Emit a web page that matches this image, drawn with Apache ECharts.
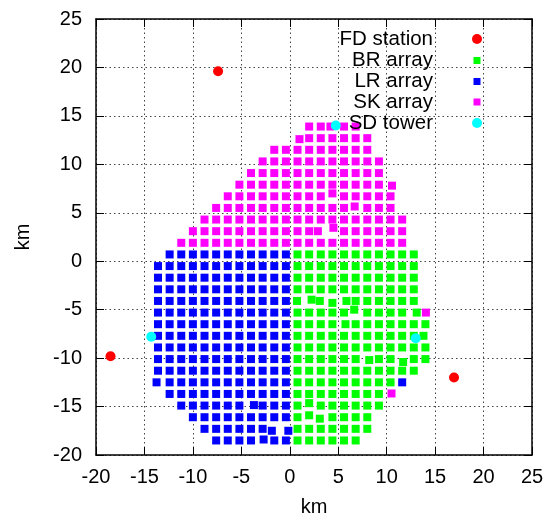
<!DOCTYPE html>
<html>
<head>
<meta charset="utf-8">
<script src="https://cdn.jsdelivr.net/npm/echarts@6/dist/echarts.min.js"></script>
<style>html,body{margin:0;padding:0;background:#fff}#c{width:555px;height:516px}</style>
</head>
<body>
<div id="c"></div>
<script>
// Axis ticks
const xTicks = [-20, -15, -10, -5, 0, 5, 10, 15, 20, 25];
const yTicks = [-20, -15, -10, -5, 0, 5, 10, 15, 20, 25];
const legendNames = ['FD station', 'BR array', 'LR array', 'SK array', 'SD tower'];

// FD stations and SD communication towers (km)
const fdStations = [[-7.4, 19.6], [-18.5, -9.8], [16.95, -12.0]];
const sdTowers = [[4.75, 14.0], [-14.3, -7.8], [13.0, -7.95]];

const skRows = [
  [13.9, [2.0, 3.2, 4.2, 5.6, 6.8]],
  [12.7, [[1.0, 12.6], 2.0, 3.2, 4.4, 5.6, 6.8, 8.0]],
  [11.5, [-1.6, -0.4, 0.8, 2.0, 3.2, 4.4, 5.6, 6.8, 8.0]],
  [10.3, [-2.8, -1.6, -0.4, 0.8, 2.0, 3.2, 4.4, 5.6, 6.8, 8.0, 9.2]],
  [9.1, [-4.0, -2.8, -1.6, -0.4, 0.8, 2.0, 3.2, 4.4, 5.6, 6.8, 8.0, 9.2]],
  [7.9, [-5.2, -4.0, -2.8, -1.6, -0.4, 0.8, 2.0, 3.2, 4.4, 5.6, 6.8, 8.0, 9.2, [10.55, 7.8]]],
  [6.7, [-6.4, -5.2, -4.0, -2.8, -1.6, -0.4, 0.8, 2.0, 3.2, [4.4, 7.0], 5.6, 6.8, 8.0, 9.2, 10.4]],
  [5.5, [-7.6, -6.4, -5.2, -4.0, -2.8, -1.6, -0.4, 0.8, 2.0, 3.2, 4.4, 5.6, [6.7, 5.65], 8.0, 9.2, 10.4]],
  [4.3, [-8.8, -7.6, -6.4, -5.2, -4.0, -2.8, -1.6, -0.4, 0.8, 2.0, 3.2, 4.4, 5.6, 6.8, 8.0, 9.2, 10.4, 11.6]],
  [3.1, [-10.0, -8.8, -7.6, -6.4, -5.2, -4.0, -2.8, -1.6, -0.4, 0.8, 2.0, [2.9, 3.1], [4.5, 3.45], 5.6, 6.8, 8.0, 9.2, 10.4, 11.6]],
  [1.9, [-11.2, -10.0, -8.8, -7.6, -6.4, -5.2, -4.0, -2.8, -1.6, -0.4, 0.8, 2.0, 3.2, 4.4, 5.6, 6.8, 8.0, 9.2, 10.4, 11.6]],
  [-5.3, [14.05]],
  [-13.65, [10.5]]
];

const lrRows = [
  [0.7, [-12.4, -11.2, -10.0, -8.8, -7.6, -6.4, -5.2, -4.0, -2.8, -1.6, -0.4]],
  [-0.5, [-13.6, -12.4, -11.2, -10.0, -8.8, -7.6, -6.4, -5.2, -4.0, -2.8, -1.6, -0.4]],
  [-1.7, [-13.6, -12.4, -11.2, -10.0, -8.8, -7.6, -6.4, -5.2, -4.0, -2.8, -1.6, -0.4]],
  [-2.9, [-13.6, -12.4, -11.2, -10.0, -8.8, -7.6, -6.4, -5.2, -4.0, -2.8, -1.6, -0.4]],
  [-4.1, [-13.6, -12.4, -11.2, -10.0, -8.8, -7.6, -6.4, -5.2, -4.0, -2.8, -1.6, -0.4]],
  [-5.3, [-13.6, -12.4, -11.2, -10.0, -8.8, -7.6, -6.4, -5.2, -4.0, -2.8, -1.6, -0.4]],
  [-6.5, [-13.6, -12.4, -11.2, -10.0, -8.8, -7.6, -6.4, -5.2, -4.0, -2.8, -1.6, -0.4]],
  [-7.7, [-13.6, -12.4, -11.2, -10.0, -8.8, -7.6, -6.4, -5.2, -4.0, -2.8, -1.6, -0.4]],
  [-8.9, [-13.6, -12.4, -11.2, -10.0, -8.8, -7.6, -6.4, -5.2, -4.0, -2.8, -1.6, -0.4]],
  [-10.1, [-13.6, -12.4, -11.2, -10.0, -8.8, -7.6, -6.4, -5.2, -4.0, -2.8, -1.6, -0.4]],
  [-11.3, [-13.6, -12.4, -11.2, -10.0, -8.8, -7.6, -6.4, -5.2, -4.0, -2.8, -1.6, -0.4]],
  [-12.5, [-13.75, -12.4, -11.2, -10.0, -8.8, -7.6, -6.4, -5.2, -4.0, -2.8, -1.6, -0.4, 11.6]],
  [-13.7, [-12.4, -11.2, -10.0, -8.8, -7.6, -6.4, -5.2, -4.0, -2.8, -1.6, -0.4]],
  [-14.9, [-11.2, -10.0, -8.8, -7.6, -6.4, -5.2, [-3.7, -14.85], -2.8, -1.6, -0.4]],
  [-16.1, [-10.0, -8.8, -7.6, -6.4, -5.2, -4.0, -2.8, -1.6, -0.4]],
  [-17.3, [-8.8, -7.6, -6.4, -5.2, -4.0, -2.8, [-1.85, -17.5], [-0.15, -17.5]]],
  [-18.5, [-7.6, -6.4, -5.2, -4.0, [-2.7, -18.4], -1.6, -0.4]]
];

const brRows = [
  [0.7, [0.8, 2.0, 3.2, 4.4, 5.6, 6.8, 8.0, 9.2, 10.4, 11.6, 12.8]],
  [-0.5, [0.8, 2.0, 3.2, 4.4, 5.6, 6.8, 8.0, 9.2, 10.4, 11.6, 12.8]],
  [-1.7, [0.8, 2.0, 3.2, 4.4, 5.6, 6.8, 8.0, 9.2, 10.4, 11.6, 12.8]],
  [-2.9, [0.8, 2.0, 3.2, 4.4, 5.6, 6.8, 8.0, 9.2, 10.4, 11.6, 12.8]],
  [-4.1, [0.75, [2.25, -3.97], 3.1, [4.4, -4.3], 5.85, 6.8, 8.0, 9.2, 10.4, 11.6, 12.8]],
  [-5.3, [0.8, 2.0, 3.2, 4.4, 5.6, [6.65, -5.0], 8.0, 9.2, 10.4, 11.6, 13.1]],
  [-6.5, [0.8, 2.0, 3.2, 4.4, 5.75, 6.8, 8.0, 9.2, 10.4, 11.6, 12.8, 14.0]],
  [-7.7, [0.8, 2.0, 3.2, 4.4, 5.6, 6.8, 8.0, 9.2, 10.4, 11.6, 12.8, 13.8]],
  [-8.9, [0.8, 2.0, 3.2, 4.4, 5.6, 6.8, 8.0, 9.2, 10.4, 11.6, 12.8, 14.0]],
  [-10.1, [0.8, 2.0, 3.2, 4.4, 5.6, 6.8, [8.2, -10.2], 9.2, 10.4, [11.7, -10.4], 12.8, 14.0]],
  [-11.3, [0.8, 2.0, 3.2, 4.4, 5.6, 6.8, 8.0, 9.2, 10.4, 11.6, 12.8]],
  [-12.5, [0.8, 2.0, 3.2, 4.4, 5.6, 6.8, 8.0, 9.2, 10.4]],
  [-13.7, [0.8, 2.0, 3.2, 4.4, 5.6, 6.8, 8.0, 9.2]],
  [-14.9, [0.8, [2.0, -14.65], 3.2, 4.4, 5.6, 6.8, 8.0, 9.2]],
  [-16.1, [0.8, [2.0, -15.9], [3.1, -16.25], 4.4, 5.6, 6.8, 8.0]],
  [-17.3, [0.8, 2.0, 3.2, 4.4, 5.6, 6.8, 8.0]],
  [-18.5, [0.8, 2.0, 3.2, 4.4, 5.6, 6.8]]
];

function rowsToPoints(rows) {
  const pts = [];
  rows.forEach(([y, xs]) => xs.forEach(v => pts.push(Array.isArray(v) ? v : [v, y])));
  return pts;
}

const FONT = '"Liberation Sans", Arial, Helvetica, sans-serif';
const FS = 20;
const LFS = 20.5;
const chart = echarts.init(document.getElementById('c'), null, {renderer: 'canvas'});

const baseAxis = {
  type: 'value', min: -20, max: 25, interval: 5,
  axisLine: {show: true, onZero: false, lineStyle: {color: '#000', width: 1.5}},
  axisTick: {show: true, inside: true, length: 8, lineStyle: {color: '#000', width: 1}},
  splitLine: {show: false}
};

const legendColors = ['#ff0000', '#00ff00', '#0000ff', '#ff00ff', '#00ffff'];
const legendY = [39, 60.5, 81.5, 102, 123];
const graphics = [];
legendNames.forEach((n, i) => {
  graphics.push({type: 'text', z: 100, style: {
    text: n, x: 433, y: legendY[i], textAlign: 'right', textVerticalAlign: 'middle',
    font: LFS + 'px ' + FONT, fill: '#000'}});
  if (i === 0 || i === 4) {
    graphics.push({type: 'circle', z: 100, shape: {cx: 477, cy: legendY[i], r: 5}, style: {fill: legendColors[i]}});
  } else {
    graphics.push({type: 'rect', z: 100, shape: {x: 473.5, y: legendY[i] - 3.5, width: 7, height: 7}, style: {fill: legendColors[i]}});
  }
});

const pointStyle = c => ({color: c, opacity: 1});

chart.setOption({
  animation: false,
  backgroundColor: '#fff',
  textStyle: {fontFamily: FONT},
  grid: {left: 96, right: 23, top: 19, bottom: 61, containLabel: false, outerBoundsMode: 'none'},
  xAxis: [
    Object.assign({}, baseAxis, {
      position: 'bottom',
      name: 'km', nameLocation: 'middle', nameGap: 42,
      nameTextStyle: {fontSize: FS, color: '#000', fontFamily: FONT},
      axisLabel: {show: true, margin: 12, fontSize: FS, color: '#000', fontFamily: FONT,
        formatter: v => xTicks.includes(v) ? String(v) : ''},
      splitLine: {show: true, lineStyle: {color: '#444', width: 1, type: [1.5, 3]}}
    }),
    Object.assign({}, baseAxis, {position: 'top', axisLabel: {show: false}})
  ],
  yAxis: [
    Object.assign({}, baseAxis, {
      position: 'left',
      name: 'km', nameLocation: 'middle', nameGap: 63, nameRotate: 90,
      nameTextStyle: {fontSize: FS, color: '#000', fontFamily: FONT},
      axisLabel: {show: true, margin: 14, fontSize: FS, color: '#000', fontFamily: FONT,
        formatter: v => yTicks.includes(v) ? String(v) : ''},
      splitLine: {show: true, lineStyle: {color: '#444', width: 1, type: [1.5, 3]}}
    }),
    Object.assign({}, baseAxis, {position: 'right', axisLabel: {show: false}})
  ],
  graphic: graphics,
  series: [
    {name: legendNames[0], type: 'scatter', data: fdStations, symbol: 'circle', symbolSize: 10,
      itemStyle: pointStyle('#ff0000'), z: 2},
    {name: legendNames[1], type: 'scatter', data: rowsToPoints(brRows), symbol: 'rect', symbolSize: 8,
      itemStyle: pointStyle('#00ff00'), z: 3},
    {name: legendNames[2], type: 'scatter', data: rowsToPoints(lrRows), symbol: 'rect', symbolSize: 8,
      itemStyle: pointStyle('#0000ff'), z: 4},
    {name: legendNames[3], type: 'scatter', data: rowsToPoints(skRows), symbol: 'rect', symbolSize: 8,
      itemStyle: pointStyle('#ff00ff'), z: 5},
    {name: legendNames[4], type: 'scatter', data: sdTowers, symbol: 'circle', symbolSize: 10,
      itemStyle: pointStyle('#00ffff'), z: 6}
  ]
});
</script>
</body>
</html>
